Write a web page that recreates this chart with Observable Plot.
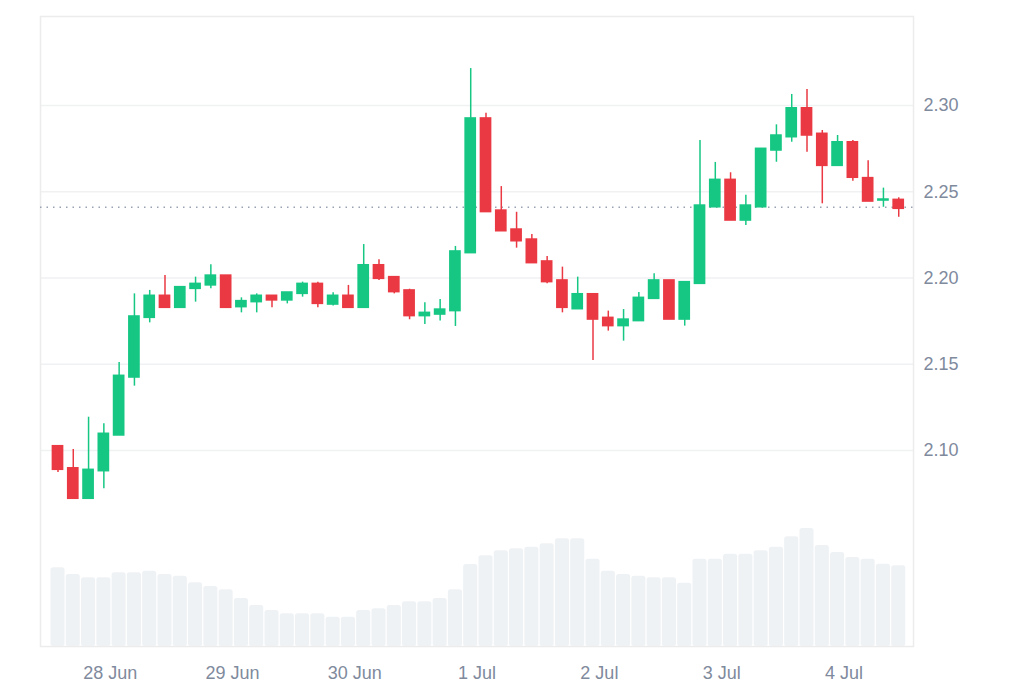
<!DOCTYPE html>
<html><head><meta charset="utf-8">
<script src="https://cdn.jsdelivr.net/npm/d3@7"></script>
<script src="https://cdn.jsdelivr.net/npm/@observablehq/plot@0.6"></script>
<style>
html,body{margin:0;padding:0;background:#fff;}
#wrap{position:relative;width:1024px;height:683px;overflow:hidden;}
#wrap svg{position:absolute;left:0;top:0;}
</style></head><body><div id="wrap"></div>
<script>
// 3-hour candles
const startTime = Date.UTC(2024, 5, 27, 13, 45);
const stepHours = 3;
const open  = [2.1025,2.0897,2.0720,2.0880,2.1087,2.1423,2.1769,2.1897,2.1827,2.1937,2.1957,2.2014,2.1831,2.1860,2.1897,2.1870,2.1908,2.1966,2.1846,2.1897,2.1827,2.2074,2.2005,2.1928,2.1779,2.1788,2.1808,2.2144,2.2925,2.2391,2.2281,2.2223,2.2096,2.1986,2.1819,2.1906,2.1769,2.1721,2.1750,2.1879,2.1986,2.1759,2.1966,2.2410,2.2569,2.2333,2.2410,2.2739,2.2816,2.2984,2.2836,2.2650,2.2787,2.2579,2.2449,2.2453];
const high  = [2.1025,2.1006,2.1193,2.1155,2.1510,2.1908,2.1928,2.2014,2.1947,2.2005,2.2077,2.2014,2.1885,2.1908,2.1897,2.1916,2.1976,2.1976,2.1914,2.1957,2.2194,2.2106,2.2005,2.1935,2.1856,2.1875,2.2183,2.3214,2.2955,2.2530,2.2381,2.2252,2.2125,2.2063,2.2005,2.1906,2.1808,2.1817,2.1916,2.2024,2.1986,2.1976,2.2797,2.2670,2.2610,2.2480,2.2749,2.2888,2.3064,2.3093,2.2855,2.2826,2.2797,2.2679,2.2521,2.2465];
const low   = [2.0872,2.0720,2.0720,2.0778,2.1087,2.1373,2.1740,2.1827,2.1827,2.1860,2.1937,2.1827,2.1798,2.1798,2.1827,2.1850,2.1889,2.1827,2.1837,2.1827,2.1827,2.1986,2.1908,2.1758,2.1730,2.1750,2.1719,2.2144,2.2382,2.2271,2.2173,2.2086,2.1966,2.1798,2.1819,2.1522,2.1692,2.1634,2.1750,2.1879,2.1759,2.1721,2.1966,2.2410,2.2333,2.2304,2.2410,2.2671,2.2787,2.2729,2.2430,2.2650,2.2561,2.2443,2.2410,2.2352];
const close = [2.0888,2.0720,2.0888,2.1097,2.1433,2.1777,2.1897,2.1827,2.1947,2.1966,2.2014,2.1827,2.1866,2.1897,2.1870,2.1916,2.1966,2.1850,2.1897,2.1827,2.2074,2.1995,2.1918,2.1779,2.1798,2.1817,2.2154,2.2925,2.2382,2.2271,2.2213,2.2086,2.1976,2.1827,2.1906,2.1759,2.1721,2.1759,2.1885,2.1986,2.1759,2.1976,2.2420,2.2569,2.2333,2.2420,2.2749,2.2826,2.2984,2.2826,2.2650,2.2787,2.2581,2.2443,2.2455,2.2401];
const volumeM = [78.7,72,68.7,68.7,73.7,73.7,75.3,72,70.3,63.7,60,56.7,48,41,36,32.7,32.7,32.7,29.3,29.3,36,37.7,41,44.7,44.7,48,56.7,82,90.7,95.7,97.7,99.3,102.7,107.7,107.7,87.3,75.3,72,70.3,68.7,68.7,63.3,87.3,87.3,92.3,92.3,95.7,99.3,109.7,118,101,94,89,87.3,82.3,80.7];
const dayTicks = ["2024-06-28","2024-06-29","2024-06-30","2024-07-01","2024-07-02","2024-07-03","2024-07-04"];
const priceTicks = [2.10, 2.15, 2.20, 2.25, 2.30];
const currentPrice = 2.241;

const GREEN = "#16c784", RED = "#ea3943";
const H = 3600e3;
const candles = open.map((o, i) => ({
  t: new Date(startTime + i * stepHours * H),
  open: o, high: high[i], low: low[i], close: close[i], volume: volumeM[i]
}));
const up = candles.filter(d => d.close >= d.open);
const down = candles.filter(d => d.close < d.open);
const xDomain = [new Date(Date.UTC(2024,5,27,10,19)), new Date(Date.UTC(2024,6,4,13,39))];
const common = {width: 1024, height: 683, marginLeft: 40, marginRight: 111, marginTop: 16, marginBottom: 37};

const vol = Plot.plot({
  ...common,
  style: {background: "transparent"},
  x: {type: "utc", domain: xDomain, axis: null},
  y: {domain: [0, d3.max(volumeM)], range: [646, 528], axis: null},
  marks: [
    Plot.rect(candles, {
      x1: d => new Date(+d.t - 1.5 * H), x2: d => new Date(+d.t + 1.5 * H),
      y1: d => 0, y2: "volume", fill: "#eff2f5", insetLeft: 0.6, insetRight: 0.6, rx: 2.5
    })
  ]
});

const bodyHalf = 1.15 * H;
const price = Plot.plot({
  ...common,
  style: {background: "transparent", fontFamily: "'Liberation Sans', Arial, sans-serif", fontSize: "18px", color: "#808a9d"},
  x: {type: "utc", domain: xDomain, ticks: dayTicks.map(d => new Date(d)), tickFormat: d3.utcFormat("%-d %b"), tickSize: 0, tickPadding: 20, label: null},
  y: {domain: [1.98638, 2.35159], ticks: priceTicks, tickFormat: d3.format(".2f"), axis: "right", tickSize: 0, tickPadding: 10, label: null},
  marks: [
    Plot.ruleY(priceTicks, {stroke: "#f0f1f3", strokeWidth: 1.5}),
    Plot.frame({stroke: "#ececec", strokeWidth: 1.5}),
    Plot.ruleY([currentPrice], {stroke: "#9aa1b1", strokeDasharray: "1.5,5", strokeWidth: 1.5}),
    Plot.ruleX(up, {x: "t", y1: "low", y2: "high", stroke: GREEN, strokeWidth: 1.5}),
    Plot.ruleX(down, {x: "t", y1: "low", y2: "high", stroke: RED, strokeWidth: 1.5}),
    Plot.rect(up, {x1: d => new Date(+d.t - bodyHalf), x2: d => new Date(+d.t + bodyHalf), y1: "open", y2: "close", fill: GREEN, insetTop: -0.75, insetBottom: -0.75}),
    Plot.rect(down, {x1: d => new Date(+d.t - bodyHalf), x2: d => new Date(+d.t + bodyHalf), y1: "open", y2: "close", fill: RED, insetTop: -0.75, insetBottom: -0.75})
  ]
});

const wrap = document.getElementById("wrap");
wrap.appendChild(vol);
wrap.appendChild(price);
</script></body></html>
